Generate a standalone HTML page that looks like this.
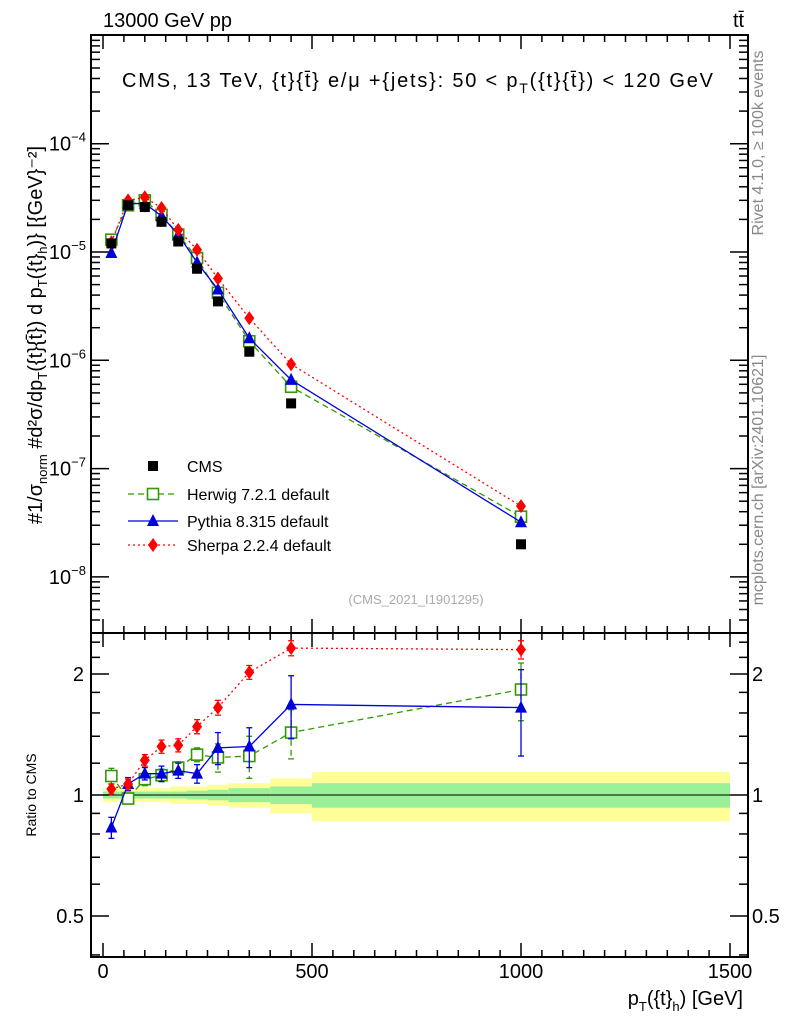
<!DOCTYPE html>
<html><head><meta charset="utf-8"><style>
body{margin:0;background:#fff;}
svg text{font-family:"Liberation Sans",sans-serif;}
</style></head><body>
<svg id="c" width="786" height="1024" xmlns="http://www.w3.org/2000/svg">
<text x="103" y="27" font-size="20">13000 GeV pp</text>
<text x="733" y="27" font-size="20">tt̄</text>
<text transform="translate(763,143) rotate(-90)" font-size="16" fill="#888" text-anchor="middle">Rivet 4.1.0, ≥ 100k events</text>
<text transform="translate(763,480) rotate(-90)" font-size="16" fill="#888" text-anchor="middle">mcplots.cern.ch [arXiv:2401.10621]</text>
<text x="122" y="87" font-size="20" textLength="591" lengthAdjust="spacing">CMS, 13 TeV, {t}{t̄} e/μ +{jets}: 50 &lt;  p<tspan font-size="14" dy="6">T</tspan><tspan dy="-6">({t}{t̄}) &lt; 120 GeV</tspan></text>
<text x="416" y="604" font-size="13" fill="#aaa" text-anchor="middle">(CMS_2021_I1901295)</text>
<g transform="translate(42,335) rotate(-90)"><text x="0" y="0" font-size="20" text-anchor="middle">#1/σ<tspan font-size="13" dy="5">norm</tspan><tspan dy="-5"> #d²σ/dp</tspan><tspan font-size="13" dy="5">T</tspan><tspan dy="-5">({t}{t̄}) d p</tspan><tspan font-size="13" dy="5">T</tspan><tspan dy="-5">({t}</tspan><tspan font-size="13" dy="5">h</tspan><tspan dy="-5">)} [{GeV}⁻²]</tspan></text></g>
<text transform="translate(36,795) rotate(-90)" font-size="14" text-anchor="middle">Ratio to CMS</text>
<text x="743" y="1005" font-size="20" text-anchor="end">p<tspan font-size="13" dy="6">T</tspan><tspan dy="-6">({t}</tspan><tspan font-size="13" dy="6">h</tspan><tspan dy="-6">) [GeV]</tspan></text>
<g id="g"></g>
</svg>
<script>
const centers=[20,60,100,140,180,225,275,350,450,1000];
const edges=[0,40,80,120,160,200,250,300,400,500,1500];
const cms=[1.2e-5,2.7e-5,2.6e-5,1.9e-5,1.25e-5,7e-6,3.5e-6,1.2e-6,4e-7,2e-8];
const herwig=[1.3e-5,2.7e-5,3.0e-5,2.2e-5,1.45e-5,8.8e-6,4.2e-6,1.5e-6,5.7e-7,3.6e-8];
const pythia=[9.8e-6,2.8e-5,2.8e-5,2.15e-5,1.45e-5,8e-6,4.5e-6,1.6e-6,6.6e-7,3.2e-8];
const sherpa=[1.23e-5,3.0e-5,3.2e-5,2.55e-5,1.6e-5,1.05e-5,5.7e-6,2.45e-6,9.2e-7,4.5e-8];
const rHerwig=[1.115,0.98,1.095,1.12,1.17,1.26,1.24,1.25,1.43,1.83];
const rHerwigErr=[0.05,0.03,0.04,0.04,0.04,0.05,0.1,0.15,0.2,0.3];
const rPythia=[0.83,1.065,1.13,1.13,1.15,1.13,1.31,1.32,1.68,1.65];
const rPythiaErr=[0.05,0.04,0.04,0.05,0.05,0.06,0.12,0.15,0.3,0.4];
const rSherpa=[1.035,1.065,1.22,1.32,1.33,1.48,1.65,2.02,2.32,2.3];
const rSherpaErr=[0.03,0.03,0.04,0.05,0.05,0.06,0.07,0.08,0.1,0.12];
const bandYellow=[0.04,0.04,0.04,0.04,0.05,0.05,0.06,0.07,0.1,0.14];
const bandGreen=[0.02,0.02,0.02,0.02,0.02,0.025,0.03,0.04,0.05,0.07];
const yTicks=[1e-8,1e-7,1e-6,1e-5,1e-4];
const yTickLabels=[["10","−8"],["10","−7"],["10","−6"],["10","−5"],["10","−4"]];
const rTicks=[0.5,1,2];
const xTicks=[0,500,1000,1500];

const L=91,R=748,T=35,MB=633,RB=957;
const X=v=>103+v*0.418;
const Y=v=>252-108.3*Math.log10(v/1e-5);
const YR=v=>795-121*Math.log2(v);
const g=document.getElementById('g');
const NS='http://www.w3.org/2000/svg';
function el(t,a,p){const e=document.createElementNS(NS,t);for(const k in a)e.setAttribute(k,a[k]);(p||g).appendChild(e);return e;}
const clipDef=el('defs',{});
const cp=el('clipPath',{id:'cm'},clipDef);el('rect',{x:L,y:T,width:R-L,height:MB-T},cp);
const cr=el('clipPath',{id:'cr'},clipDef);el('rect',{x:L,y:MB,width:R-L,height:RB-MB},cr);

for(let i=0;i<centers.length;i++){
  const x0=X(edges[i]),x1=X(edges[i+1]);
  let r=el('rect',{x:x0,y:YR(1+bandYellow[i]),width:x1-x0,height:YR(1-bandYellow[i])-YR(1+bandYellow[i]),fill:'#ffff99'});
  
  
  r=el('rect',{x:x0,y:YR(1+bandGreen[i]),width:x1-x0,height:YR(1-bandGreen[i])-YR(1+bandGreen[i]),fill:'#99f099'});
  
  
}
el('line',{x1:X(0),x2:X(1500),y1:YR(1),y2:YR(1),stroke:'#000','stroke-width':1});

el('rect',{x:L,y:T,width:R-L,height:MB-T,fill:'none',stroke:'#000','stroke-width':2});
el('rect',{x:L,y:MB,width:R-L,height:RB-MB,fill:'none',stroke:'#000','stroke-width':2});
for(let v=0;v<=1550;v+=50){
  const x=X(v);if(x>R)break;const len=v%500==0?14:7;
  [[T,1],[MB,-1],[MB,1],[RB,-1]].forEach(([y,d])=>el('line',{x1:x,x2:x,y1:y,y2:y+d*len,stroke:'#000','stroke-width':1.5}));
}
xTicks.forEach(v=>{const t=el('text',{x:X(v),y:978,'font-size':20,'text-anchor':'middle'});t.textContent=v;
 
 });
for(let e=-9;e<=-4;e++)for(let m=1;m<10;m++){
  const v=m*Math.pow(10,e);const y=Y(v);if(y<T||y>MB)continue;const len=m==1?18:9;
  el('line',{x1:L,x2:L+len,y1:y,y2:y,stroke:'#000','stroke-width':1.5});
  el('line',{x1:R,x2:R-len,y1:y,y2:y,stroke:'#000','stroke-width':1.5});
}
yTicks.forEach((v,i)=>{const t=el('text',{x:86,y:Y(v)+7,'font-size':20,'text-anchor':'end'});
 t.innerHTML=yTickLabels[i][0]+'<tspan font-size="13" dy="-9">'+yTickLabels[i][1]+'</tspan>';
 
 });
[0.4,0.5,0.6,0.7,0.8,0.9,1,1.2,1.4,1.6,1.8,2,2.2,2.4].forEach(v=>{const y=YR(v);if(y<MB||y>RB)return;const len=rTicks.includes(v)?18:9;
  el('line',{x1:L,x2:L+len,y1:y,y2:y,stroke:'#000','stroke-width':1.5});
  el('line',{x1:R,x2:R-len,y1:y,y2:y,stroke:'#000','stroke-width':1.5});});
rTicks.forEach(v=>{let t=el('text',{x:84,y:YR(v)+7,'font-size':20,'text-anchor':'end'});t.textContent=v;
 
 
 t=el('text',{x:752,y:YR(v)+7,'font-size':20});t.textContent=v;
 
 });

function marker(type,x,y,col,parent){
  if(type=='sq')return el('rect',{x:x-5,y:y-5,width:10,height:10,fill:'#000'},parent);
  if(type=='osq')return el('rect',{x:x-5.5,y:y-5.5,width:11,height:11,fill:'#fff',stroke:col,'stroke-width':1.6},parent);
  if(type=='tri')return el('polygon',{points:`${x},${y-7} ${x-6},${y+5} ${x+6},${y+5}`,fill:col},parent);
  return el('polygon',{points:`${x},${y-7} ${x-5},${y} ${x},${y+7} ${x+5},${y}`,fill:col},parent);
}
const series=[
 {n:'herwig',d:herwig,r:rHerwig,e:rHerwigErr,c:'#339900',dash:'6,4',m:'osq'},
 {n:'pythia',d:pythia,r:rPythia,e:rPythiaErr,c:'#0000dd',dash:'',m:'tri'},
 {n:'sherpa',d:sherpa,r:rSherpa,e:rSherpaErr,c:'#ff0000',dash:'2,3',m:'dia'}];
const gm=el('g',{'clip-path':'url(#cm)'});


const gr=el('g',{'clip-path':'url(#cr)'});


series.forEach(s=>{
  let p=el('polyline',{points:centers.map((c,i)=>X(c)+','+Y(s.d[i])).join(' '),fill:'none',stroke:s.c,'stroke-width':1.3,'stroke-dasharray':s.dash},gm);
  
  
  p=el('polyline',{points:centers.map((c,i)=>X(c)+','+YR(s.r[i])).join(' '),fill:'none',stroke:s.c,'stroke-width':1.3,'stroke-dasharray':s.dash},gr);
  
  
  centers.forEach((c,i)=>{
    const x=X(c);
    el('line',{x1:x,x2:x,y1:YR(s.r[i]+s.e[i]),y2:YR(s.r[i]-s.e[i]),stroke:s.c,'stroke-width':1.3,'stroke-dasharray':s.dash},gr);
    el('line',{x1:x-3,x2:x+3,y1:YR(s.r[i]+s.e[i]),y2:YR(s.r[i]+s.e[i]),stroke:s.c,'stroke-width':1.3},gr);
    el('line',{x1:x-3,x2:x+3,y1:YR(s.r[i]-s.e[i]),y2:YR(s.r[i]-s.e[i]),stroke:s.c,'stroke-width':1.3},gr);
    let m=marker(s.m,x,Y(s.d[i]),s.c,gm);
    
    
    m=marker(s.m,x,YR(s.r[i]),s.c,gr);
    
    
  });
});
centers.forEach((c,i)=>{const m=marker('sq',X(c),Y(cms[i]),'#000',gm);
  
  });

const leg=[['sq','#000','','CMS',466],['osq','#339900','6,4','Herwig 7.2.1 default',494],['tri','#0000dd','','Pythia 8.315 default',521],['dia','#ff0000','2,3','Sherpa 2.2.4 default',545]];
leg.forEach(([m,c,d,t,y])=>{
  const lg=el('g',{});
  
  
  if(m!='sq')el('line',{x1:128,x2:178,y1:y,y2:y,stroke:c,'stroke-width':1.3,'stroke-dasharray':d},lg);
  marker(m,153,y,c,lg);
  const tx=el('text',{x:187,y:y+6,'font-size':16},lg);tx.textContent=t;
});
</script>
</body></html>
